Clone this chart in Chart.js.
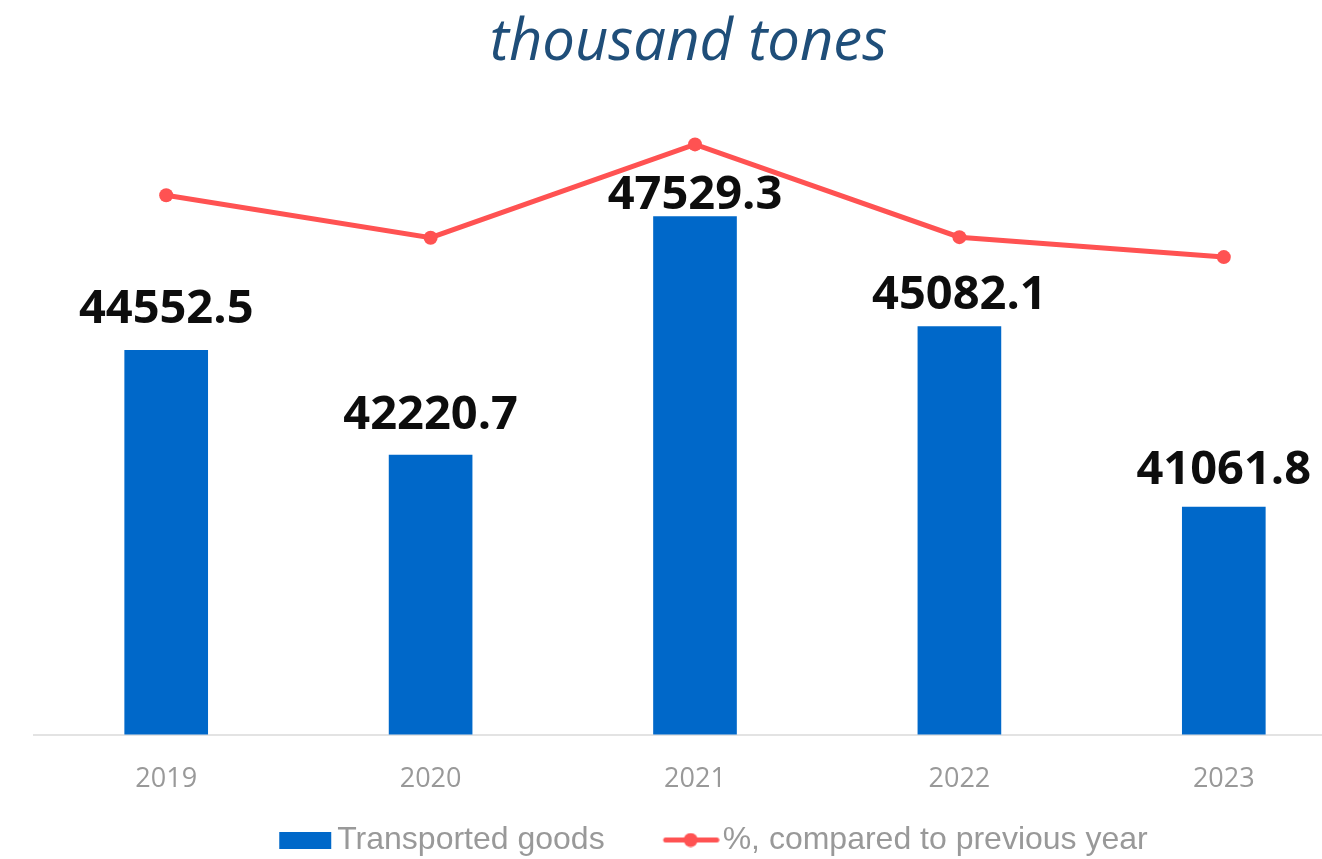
<!DOCTYPE html>
<html>
<head>
<meta charset="utf-8">
<script src="https://cdn.jsdelivr.net/npm/chart.js@4/dist/chart.umd.min.js"></script>
<style>
  html, body { margin: 0; padding: 0; background: #ffffff; overflow: hidden; width: 1322px; height: 859px; }
  canvas { display: block; }
</style>
</head>
<body>
<canvas id="c" width="1363" height="859"></canvas>
<script>
const categories = ['2019', '2020', '2021', '2022', '2023'];
const goodsValues = [44552.5, 42220.7, 47529.3, 45082.1, 41061.8];
const percentValues = [102.9, 94.8, 112.6, 94.9, 91.1];
const seriesNames = ['Transported goods', '%, compared to previous year'];
const titleText = 'thousand tones';

const BAR_COLOR = '#0068C9';
const LINE_COLOR = '#FF5252';
const GREY = '#999999';
const ICON_W = 118;
const LABEL_GAPS = [27, 26, 8, 18, 23];

function makeBarIcon() {
  const c = document.createElement('canvas');
  c.width = ICON_W; c.height = 17;
  const g = c.getContext('2d');
  g.fillStyle = BAR_COLOR;
  g.fillRect(ICON_W - 55, 0, 52, 17);
  return c;
}
function makeLineIcon() {
  const c = document.createElement('canvas');
  c.width = ICON_W; c.height = 15;
  const g = c.getContext('2d');
  g.strokeStyle = LINE_COLOR;
  g.lineWidth = 5;
  g.lineCap = 'round';
  g.beginPath(); g.moveTo(ICON_W - 54, 7.5); g.lineTo(ICON_W - 3, 7.5); g.stroke();
  g.fillStyle = LINE_COLOR;
  g.beginPath(); g.arc(ICON_W - 29, 7.5, 7, 0, Math.PI * 2); g.fill();
  return c;
}
const barIcon = makeBarIcon();
const lineIcon = makeLineIcon();

const barLabels = {
  id: 'barLabels',
  afterDatasetsDraw(chart) {
    const meta = chart.getDatasetMeta(0);
    const ctx = chart.ctx;
    ctx.save();
    ctx.font = 'bold 47px "Open Sans"';
    ctx.fillStyle = '#0d0d0d';
    ctx.textAlign = 'center';
    ctx.textBaseline = 'alphabetic';
    meta.data.forEach((el, i) => {
      ctx.fillText(goodsValues[i].toFixed(1), el.x, el.y - LABEL_GAPS[i]);
    });
    ctx.restore();
  }
};

const boxShift = {
  id: 'boxShift',
  afterLayout(chart) {
    if (chart.legend) { chart.legend.left -= 10; chart.legend.right -= 10; }
    if (chart.titleBlock) { chart.titleBlock.left -= 10; chart.titleBlock.right -= 10; }
  }
};

new Chart(document.getElementById('c'), {
  type: 'bar',
  data: {
    labels: categories,
    datasets: [
      {
        type: 'bar',
        label: seriesNames[0],
        data: goodsValues,
        backgroundColor: BAR_COLOR,
        barThickness: 83,
        yAxisID: 'y',
        order: 1
      },
      {
        type: 'line',
        label: seriesNames[1],
        data: percentValues,
        borderColor: LINE_COLOR,
        backgroundColor: LINE_COLOR,
        borderWidth: 5,
        pointRadius: 7,
        pointHoverRadius: 7,
        pointBackgroundColor: LINE_COLOR,
        pointBorderWidth: 0,
        tension: 0,
        yAxisID: 'y2',
        order: 0
      }
    ]
  },
  options: {
    responsive: false,
    animation: false,
    layout: { padding: { left: 34, right: 0, top: 0, bottom: -7 } },
    plugins: {
      title: {
        display: true,
        text: titleText,
        color: '#1F4E79',
        font: { family: '"Open Sans"', size: 58, style: 'italic', weight: 'normal' },
        padding: { top: 9, bottom: 27 }
      },
      legend: {
        display: true,
        position: 'bottom',
        labels: {
          usePointStyle: true,
          pointStyleWidth: 92,
          padding: 10,
          color: GREY,
          font: { family: '"Liberation Sans"', size: 32 },
          generateLabels() {
            return [
              { text: seriesNames[0], pointStyle: barIcon, fillStyle: BAR_COLOR, strokeStyle: BAR_COLOR, lineWidth: 0, hidden: false, datasetIndex: 0, fontColor: GREY },
              { text: seriesNames[1], pointStyle: lineIcon, fillStyle: LINE_COLOR, strokeStyle: LINE_COLOR, lineWidth: 0, hidden: false, datasetIndex: 1, fontColor: GREY }
            ];
          }
        }
      },
      tooltip: { enabled: false }
    },
    scales: {
      x: {
        offset: true,
        grid: { display: true, drawOnChartArea: false, drawTicks: true, tickLength: 11, color: 'rgba(0,0,0,0)' },
        border: { display: true, color: '#E3E3E3', width: 2 },
        ticks: { color: GREY, padding: 18, font: { family: '"Open Sans"', size: 27 } }
      },
      y: {
        display: false,
        min: 36000,
        max: 50000
      },
      y2: {
        display: false,
        position: 'right',
        min: 0,
        max: 120
      }
    }
  },
  plugins: [barLabels, boxShift]
});
</script>
</body>
</html>
